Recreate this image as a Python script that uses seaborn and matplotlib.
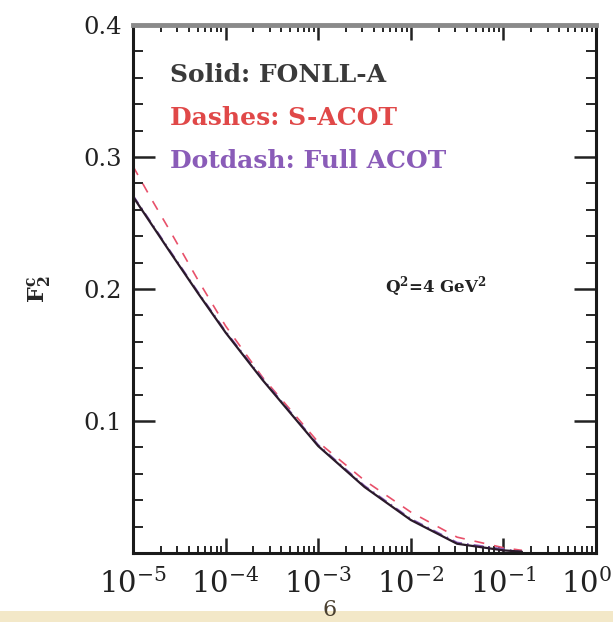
import numpy as np
import pandas as pd
import matplotlib
matplotlib.use("Agg")
import matplotlib.pyplot as plt
import matplotlib.transforms as mtransforms
import seaborn as sns
from matplotlib.patches import Rectangle
from matplotlib.ticker import FixedLocator, LogLocator, NullFormatter

# ---- data ----
log_x = [-5.0, -4.8, -4.6, -4.3, -4.0, -3.6, -3.0, -2.5, -2.0, -1.5, -1.0, -0.8]
fonll_a = [0.270, 0.249, 0.228, 0.197, 0.167, 0.131, 0.081, 0.050, 0.025, 0.007, 0.002, 0.001]
s_acot = [0.293, 0.268, 0.244, 0.207, 0.172, 0.133, 0.084, 0.055, 0.031, 0.012, 0.004, 0.002]
full_acot = [0.271, 0.250, 0.229, 0.198, 0.168, 0.132, 0.082, 0.051, 0.026, 0.008, 0.003, 0.001]

x_ticks = [1e-5, 1e-4, 1e-3, 1e-2, 1e-1, 1e0]
x_ticklabels = [r"$10^{-5}$", r"$10^{-4}$", r"$10^{-3}$", r"$10^{-2}$", r"$10^{-1}$", r"$10^{0}$"]
y_ticks = [0.1, 0.2, 0.3, 0.4]
y_ticklabels = ["0.1", "0.2", "0.3", "0.4"]

x = [10 ** v for v in log_x]
df = pd.DataFrame({
    "x": x * 3,
    "F2c": fonll_a + s_acot + full_acot,
    "scheme": ["FONLL-A"] * len(x) + ["S-ACOT"] * len(x) + ["Full ACOT"] * len(x),
})

sns.set_theme(style="ticks")
plt.rcParams["font.family"] = ["DejaVu Serif", "DejaVu Sans"]
plt.rcParams["mathtext.fontset"] = "dejavuserif"

fig = plt.figure(figsize=(6.13, 6.22), dpi=100)
fig.patch.set_facecolor("white")
ax = fig.add_axes([133 / 613, 1 - 553 / 622, (596 - 133) / 613, (553 - 25) / 622])

palette = {"FONLL-A": "#2a1a2a", "S-ACOT": "#e8506a", "Full ACOT": "#8a5cb8"}
sub = df[df.scheme == "S-ACOT"]
sns.lineplot(data=sub, x="x", y="F2c", color=palette["S-ACOT"], lw=1.2,
             ax=ax, linestyle=(0, (6, 6)))
sub = df[df.scheme == "Full ACOT"]
sns.lineplot(data=sub, x="x", y="F2c", color=palette["Full ACOT"], lw=1.2,
             ax=ax, linestyle=(0, (6, 3, 1, 3)))
sub = df[df.scheme == "FONLL-A"]
sns.lineplot(data=sub, x="x", y="F2c", color=palette["FONLL-A"], lw=1.6, ax=ax)

ax.set_xscale("log")
ax.set_xlim(1e-5, 1e0)
ax.set_ylim(0.0, 0.4)
ax.set_xticks(x_ticks)
ax.set_xticklabels(x_ticklabels)
ax.xaxis.set_minor_locator(LogLocator(base=10, subs=np.arange(2, 10), numticks=20))
ax.xaxis.set_minor_formatter(NullFormatter())
ax.set_yticks(y_ticks)
ax.set_yticklabels(y_ticklabels)
ax.yaxis.set_minor_locator(FixedLocator(np.arange(0.02, 0.4, 0.02)))

ax.tick_params(axis="x", which="major", direction="in", length=11, width=1.8,
               top=True, bottom=True, labelsize=21, pad=11, colors="#222222")
ax.tick_params(axis="x", which="minor", direction="in", length=5, width=1.4,
               top=True, bottom=True)
ax.tick_params(axis="y", which="major", direction="in", length=16, width=1.8,
               left=True, right=True, labelsize=17.5, pad=8, colors="#222222")
ax.tick_params(axis="y", which="minor", direction="in", length=7, width=1.4,
               left=True, right=True)

# keep the last x label inside the picture (reference shows it hugging the edge)
last = ax.get_xticklabels()[-1]
last.set_ha("right")
last.set_transform(last.get_transform() + mtransforms.ScaledTranslation(16 / 100, 0, fig.dpi_scale_trans))

for side in ["left", "right", "bottom"]:
    ax.spines[side].set_linewidth(2.2)
    ax.spines[side].set_color("#1a1a1a")
ax.spines["top"].set_linewidth(3.5)
ax.spines["top"].set_color("#8a8a8a")

ax.set_xlabel("")
ax.set_ylabel(r"$\mathbf{F_2^c}$", fontsize=16, rotation=90, labelpad=22)

txt_kw = dict(transform=ax.transAxes, fontsize=18, fontweight="bold", ha="left", va="center")
ax.text(0.08, 0.905, "Solid: FONLL-A", color="#3a3a3a", **txt_kw)
ax.text(0.08, 0.823, "Dashes: S-ACOT", color="#e04848", **txt_kw)
ax.text(0.08, 0.742, "Dotdash: Full ACOT", color="#8a5cb8", **txt_kw)
ax.text(0.545, 0.505, r"$\mathbf{Q^2}$=4 GeV$^\mathbf{2}$", color="#222222",
        transform=ax.transAxes, fontsize=12, fontweight="bold", ha="left", va="center")

# thin beige strip at the bottom of the picture
fig.patches.append(Rectangle((0, 0), 1, 11 / 622, transform=fig.transFigure,
                             facecolor="#f3e8c8", edgecolor="none", zorder=0))
fig.text(330 / 613, 12 / 622, "6", fontsize=16, color="#4a4030", ha="center", va="center")

fig.savefig("out.png", dpi=100)
